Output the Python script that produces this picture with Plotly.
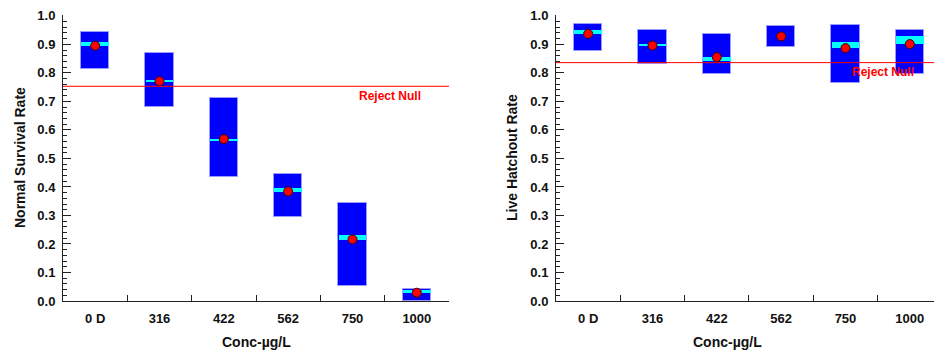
import plotly.graph_objects as go

cats = ["0 D", "316", "422", "562", "750", "1000"]

# Left panel: Normal Survival Rate
ns_box_lo = [0.814, 0.679, 0.434, 0.293, 0.054, 0.0]
ns_box_hi = [0.944, 0.868, 0.711, 0.445, 0.345, 0.042]
ns_band_lo = [0.893, 0.769, 0.563, 0.382, 0.214, 0.028]
ns_band_hi = [0.909, 0.773, 0.568, 0.396, 0.230, 0.037]
ns_mean = [0.895, 0.771, 0.568, 0.384, 0.216, 0.029]
ns_null = 0.753

# Right panel: Live Hatchout Rate
lh_box_lo = [0.877, 0.831, 0.797, 0.891, 0.763, 0.795]
lh_box_hi = [0.971, 0.952, 0.937, 0.964, 0.968, 0.949]
lh_band_lo = [0.936, 0.896, 0.843, 0.928, 0.886, 0.900]
lh_band_hi = [0.950, 0.900, 0.855, 0.928, 0.908, 0.929]
lh_mean = [0.937, 0.896, 0.855, 0.928, 0.887, 0.901]
lh_null = 0.836

FONT = "Liberation Sans, Arial, sans-serif"
BW = 0.44

fig = go.Figure()

def add_panel(xa, ya, lo, hi, blo, bhi, mean):
    fig.add_trace(go.Bar(x=cats, y=[h - l for l, h in zip(lo, hi)], base=lo, width=BW,
                         marker=dict(color="#0000ff", line=dict(color="#9a9aff", width=1)),
                         xaxis=xa, yaxis=ya, showlegend=False, hoverinfo="skip"))
    fig.add_trace(go.Bar(x=cats, y=[h - l for l, h in zip(blo, bhi)], base=blo, width=BW - 0.01,
                         marker=dict(color="#00ffff", line=dict(width=0)),
                         xaxis=xa, yaxis=ya, showlegend=False, hoverinfo="skip"))
    fig.add_trace(go.Scatter(x=cats, y=mean, mode="markers",
                             marker=dict(color="#ff0000", size=9, line=dict(color="#400000", width=1)),
                             xaxis=xa, yaxis=ya, showlegend=False))

add_panel("x", "y", ns_box_lo, ns_box_hi, ns_band_lo, ns_band_hi, ns_mean)
add_panel("x2", "y2", lh_box_lo, lh_box_hi, lh_band_lo, lh_band_hi, lh_mean)

tickfont = dict(family=FONT, size=13, color="#111", weight="bold")

def xaxis(domain, rng, anchor):
    return dict(domain=domain, anchor=anchor, type="category", range=rng,
                categoryorder="array", categoryarray=cats,
                tickson="boundaries", ticks="inside", ticklen=6, tickcolor="#222",
                showline=True, linecolor="#222", linewidth=1, showgrid=False,
                tickfont=tickfont, ticklabelstandoff=5, fixedrange=True)

def yaxis(anchor):
    return dict(anchor=anchor, range=[0, 1.003], dtick=0.1, tick0=0, tickformat=".1f",
                ticks="inside", ticklen=8, tickcolor="#222",
                minor=dict(ticks="inside", ticklen=4, dtick=0.02, tickcolor="#222"),
                showline=True, linecolor="#222", linewidth=1, showgrid=False, zeroline=False,
                tickfont=tickfont, ticklabelstandoff=4)

W = 934
fig.update_layout(
    width=W, height=355,
    margin=dict(l=0, r=0, t=15, b=54),
    paper_bgcolor="white", plot_bgcolor="white",
    barmode="overlay", bargap=0,
    xaxis=xaxis([63 / W, 449 / W], [-0.5, 5.5], "y"),
    yaxis=yaxis("x"),
    xaxis2=xaxis([556 / W, 1.0], [-0.5, 5.376], "y2"),
    yaxis2=yaxis("x2"),
    shapes=[
        dict(type="line", xref="x domain", yref="y", x0=0, x1=1, y0=ns_null, y1=ns_null,
             line=dict(color="#ff0000", width=1)),
        dict(type="line", xref="x2 domain", yref="y2", x0=0, x1=1, y0=lh_null, y1=lh_null,
             line=dict(color="#ff0000", width=1)),
    ],
)

titlefont = dict(family=FONT, size=14, color="#111", weight="bold")
redfont = dict(family=FONT, size=12, color="#ff0000", weight="bold")
anns = [
    dict(text="Normal Survival Rate", xref="paper", yref="paper", x=20 / W, y=0.5,
         textangle=-90, showarrow=False, font=titlefont, xanchor="center", yanchor="middle"),
    dict(text="Live Hatchout Rate", xref="paper", yref="paper", x=512 / W, y=0.5,
         textangle=-90, showarrow=False, font=titlefont, xanchor="center", yanchor="middle"),
    dict(text="Conc-µg/L", xref="paper", yref="paper", x=256 / W, y=-0.143,
         showarrow=False, font=titlefont, xanchor="center", yanchor="middle"),
    dict(text="Conc-µg/L", xref="paper", yref="paper", x=727 / W, y=-0.143,
         showarrow=False, font=titlefont, xanchor="center", yanchor="middle"),
    dict(text="Reject Null", xref="x", yref="y", x=4.586, y=0.72,
         showarrow=False, font=redfont, xanchor="center", yanchor="middle"),
    dict(text="Reject Null", xref="x2", yref="y2", x=4.585, y=0.804,
         showarrow=False, font=redfont, xanchor="center", yanchor="middle"),
]
fig.update_layout(annotations=anns)

fig.write_html("out.html")
